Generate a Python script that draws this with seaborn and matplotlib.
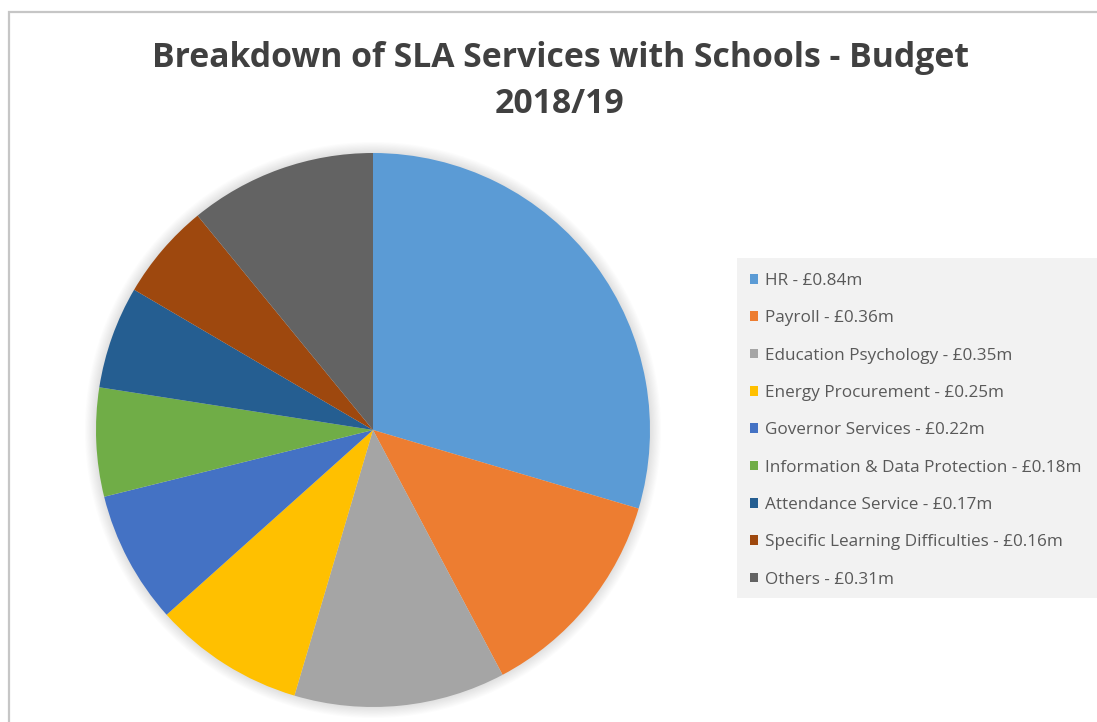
import matplotlib
matplotlib.use("Agg")
import matplotlib.pyplot as plt
from matplotlib.patches import Rectangle, Circle, Patch
import seaborn as sns

services = ["HR", "Payroll", "Education Psychology", "Energy Procurement",
            "Governor Services", "Information & Data Protection",
            "Attendance Service", "Specific Learning Difficulties", "Others"]
budget_m = [0.84, 0.36, 0.35, 0.25, 0.22, 0.18, 0.17, 0.16, 0.31]
slice_colors = ["#5B9BD5", "#ED7D31", "#A5A5A5", "#FFC000", "#4472C4",
                "#70AD47", "#255E91", "#9E480E", "#636363"]
title_text = "Breakdown of SLA Services with Schools - Budget\n2018/19"

sns.set_theme(style="white")
plt.rcParams["font.family"] = ["Open Sans", "DejaVu Sans"]
palette = sns.color_palette(slice_colors)

W, H = 1097, 722
fig = plt.figure(figsize=(W / 100, H / 100), dpi=100)
fig.patch.set_facecolor("white")

# chart-area border (open to the right and bottom)
fig.add_artist(Rectangle((9 / W, -0.05), 1.2, (H - 12) / H + 0.05,
                         transform=fig.transFigure, fill=False,
                         edgecolor="#c6c6c6", linewidth=1.6))

# pie axes: centre (373, 430) px, radius 277 px
cx, cy, r = 373, 430, 277
lim = 1.06
half = r * lim
ax = fig.add_axes([(cx - half) / W, (H - cy - half) / H, 2 * half / W, 2 * half / H])

# soft shadow behind the pie
for k in range(10):
    ax.add_patch(Circle((0, 0), 1.0 + 0.004 * (k + 1), facecolor="black",
                        edgecolor="none", alpha=0.012, zorder=0))

wedges, _ = ax.pie(budget_m, colors=palette, startangle=90, counterclock=False,
                   radius=1.0, wedgeprops=dict(linewidth=0))
for w in wedges:
    w.set_zorder(2)
ax.set_xlim(-lim, lim)
ax.set_ylim(-lim, lim)
ax.set_aspect("equal")
ax.axis("off")

fig.text(560 / W, 1 - 81 / H, title_text, ha="center", va="center",
         fontsize=24.3, fontweight="bold", color="#404040", linespacing=1.45)

# legend background panel
lx0, ly0, lx1, ly1 = 737, 258, 1097, 598
fig.add_artist(Rectangle((lx0 / W, 1 - ly1 / H), (lx1 - lx0) / W, (ly1 - ly0) / H,
                         transform=fig.transFigure, facecolor="#f2f2f2",
                         edgecolor="none", zorder=0))

labels = [f"{s} - £{v:.2f}m" for s, v in zip(services, budget_m)]
handles = [Patch(facecolor=c, edgecolor="none") for c in palette]
leg = fig.legend(handles, labels, loc="upper left",
                 bbox_to_anchor=(737 / W, 1 - 260 / H),
                 frameon=False, fontsize=12.3, labelcolor="#595959",
                 handlelength=0.5, handleheight=0.5, handletextpad=0.4,
                 labelspacing=1.25, borderpad=0.25)

fig.savefig("out.png", dpi=100, facecolor="white")
